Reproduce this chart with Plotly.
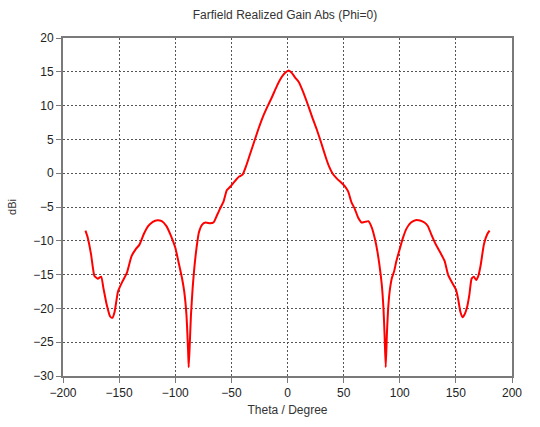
import plotly.graph_objects as go

theta = [-180, -178, -175, -172, -169, -166, -164, -161, -158, -156, -154, -151, -147, -143,
         -139, -135, -132, -128, -124, -120, -116, -112, -108, -104, -100, -97, -94, -92, -90,
         -88.5, -88, -87, -86, -84.5, -83, -81, -79, -76, -73, -69, -66, -63, -60, -57, -54,
         -51, -47, -43, -40, -37, -34, -30, -26, -22, -18, -14, -10, -7, -4, -1, 1,
         4, 7, 10, 14, 18, 22, 26, 30, 34, 37, 40, 44, 48, 51, 54, 57, 60, 63, 66, 69, 72,
         75, 78, 80, 82, 84, 85.5, 86.5, 87.5, 88.5, 89.5, 91, 93, 95, 97, 100, 103, 106, 110,
         114, 118, 122, 125, 128, 132, 136, 140, 143, 147, 150, 152, 154, 156, 158, 160, 162,
         164, 166, 168, 170, 172, 175, 178, 180]
gain = [-8.5, -9.5, -12, -15.2, -15.6, -15.3, -17, -19.5, -21.2, -21.4, -20.5, -17.5, -16, -14.7,
        -12.3, -11.2, -10.6, -9, -7.8, -7.2, -6.95, -7.1, -7.8, -9.2, -11, -13.2, -15.5, -17.5, -21,
        -26.5, -28.7, -25, -21, -17, -14, -11, -8.8, -7.6, -7.3, -7.4, -7.3, -6.3, -5.2, -4.2, -2.5,
        -2.0, -1.2, -0.5, -0.2, 1.0, 2.5, 4.5, 6.5, 8.3, 9.8, 11.2, 12.7, 13.7, 14.5, 15.0, 15.2,
        14.8, 14.1, 13.5, 12.0, 10.2, 8.3, 6.5, 4.5, 2.4, 1.0, 0.0, -0.8, -1.4, -1.9, -2.7, -4.3,
        -5.3, -6.6, -7.3, -7.2, -7.1, -8, -9.8, -11.5, -13.7, -16.5, -20, -24, -28.7, -24, -20.5,
        -17.5, -15.5, -14.5, -13, -11.2, -9.5, -8.2, -7.3, -6.95, -7, -7.3, -7.8, -9, -10.5, -11.7,
        -13, -15, -16.3, -17.2, -18.6, -20.5, -21.3, -20.8, -19.8, -18, -15.6, -15.3, -15.8, -15.2,
        -13.7, -10.5, -9, -8.5]

x_ticks = [-200, -150, -100, -50, 0, 50, 100, 150, 200]
y_ticks = [20, 15, 10, 5, 0, -5, -10, -15, -20, -25, -30]

FONT = "Liberation Sans"

fig = go.Figure()
fig.add_trace(go.Scatter(x=theta, y=gain, mode="lines",
                         line=dict(color="#ff0000", width=2, shape="spline", smoothing=0.5),
                         showlegend=False))

axis_common = dict(
    showline=True, linecolor="#7a7a7a", linewidth=2, mirror=True,
    ticks="outside", ticklen=5, tickcolor="#7a7a7a", tickwidth=1,
    showgrid=True, gridcolor="#555555", griddash="2px,2px", gridwidth=1,
    zeroline=False,
    tickfont=dict(family=FONT, size=12, color="#222222"),
)

fig.update_layout(
    width=540, height=427,
    margin=dict(l=58, r=28, t=38, b=50),
    paper_bgcolor="white", plot_bgcolor="white",
    title=dict(text="Farfield Realized Gain Abs (Phi=0)", x=285/540, xanchor="center",
               y=1 - 15/427, yanchor="middle",
               font=dict(family=FONT, size=12, color="#333333")),
    xaxis=dict(range=[-200, 200], tickvals=x_ticks,
               title=dict(text="Theta / Degree", standoff=6,
                          font=dict(family=FONT, size=12, color="#333333")),
               **axis_common),
    yaxis=dict(range=[-30, 20], tickvals=y_ticks,
               title=dict(text="dBi", standoff=14,
                          font=dict(family=FONT, size=11, color="#333333")),
               **axis_common),
)

fig.write_html("out.html")
